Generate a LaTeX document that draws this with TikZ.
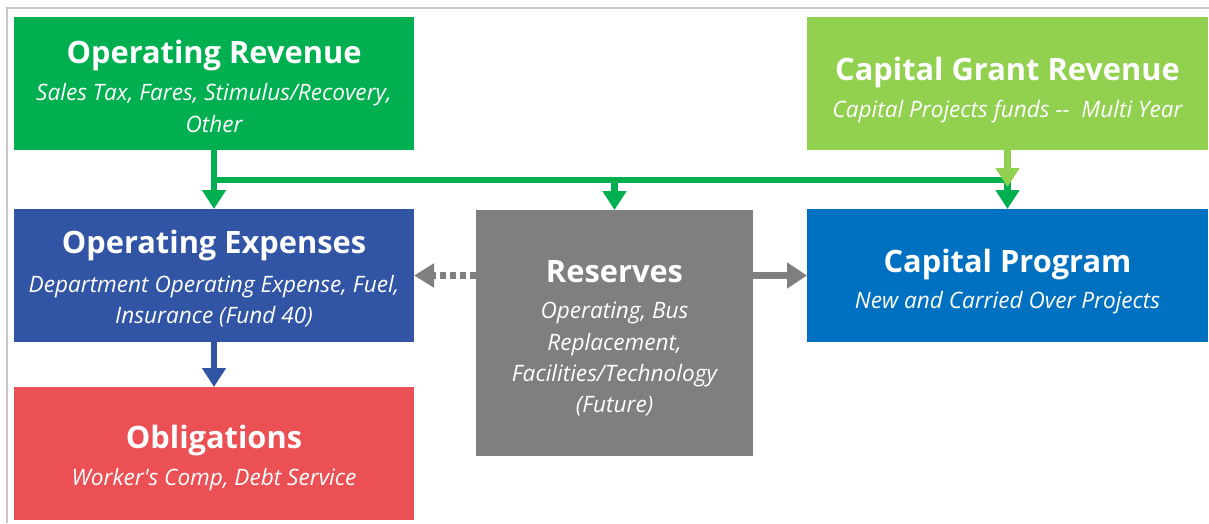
\documentclass[tikz,border=0pt]{standalone}
\usepackage{fontspec}
\setmainfont{Open Sans}
\usetikzlibrary{arrows.meta}
\definecolor{orgreen}{HTML}{00B050}
\definecolor{cggreen}{HTML}{92D050}
\definecolor{opblue}{HTML}{3155A4}
\definecolor{cpblue}{HTML}{0070C0}
\definecolor{oblred}{HTML}{EB5055}
\definecolor{resgray}{HTML}{7F7F7F}
\definecolor{framegray}{HTML}{C8C8C8}
\begin{document}
\begin{tikzpicture}[x=1pt,y=-1pt,
  box/.style={draw=none, inner sep=0pt, outer sep=0pt, anchor=north west},
  ttl/.style={text=white, font=\fontsize{30.8}{36}\selectfont\bfseries, anchor=base, inner sep=0pt},
  sub/.style={text=white, font=\fontsize{22.6}{30}\selectfont\itshape, anchor=base, inner sep=0pt},
  flow/.style={line width=6.5pt, -{Triangle[width=23pt,length=19pt]}},
  link/.style={line width=6.5pt}
]
\useasboundingbox (0,0) rectangle (1209,523);
\fill[white] (0,0) rectangle (1209,523);
\draw[framegray, line width=1.5pt] (7,523) -- (7,8) -- (1209,8);

% boxes
\node[box, fill=orgreen, minimum width=400pt, minimum height=133pt] (orev) at (14,17) {};
\node[box, fill=cggreen, minimum width=401pt, minimum height=133pt] (cgr) at (807,17) {};
\node[box, fill=opblue, minimum width=400pt, minimum height=133pt] (opex) at (14,209) {};
\node[box, fill=cpblue, minimum width=401pt, minimum height=133pt] (cprog) at (807,209) {};
\node[box, fill=oblred, minimum width=400pt, minimum height=133pt] (oblig) at (14,387) {};
\node[box, fill=resgray, minimum width=277pt, minimum height=246pt] (res) at (476,210) {};

% texts
\node[ttl] (orevT) at (214,63) {Operating Revenue};
\node[sub] (orevS1) at (214,100) {Sales Tax, Fares, Stimulus/Recovery,};
\node[sub] (orevS2) at (214,132) {Other};

\node[ttl] (cgrT) at (1007.5,80) {Capital Grant Revenue};
\node[sub] (cgrS1) at (1007.5,117) {Capital Projects funds -{}-\ \ Multi Year};

\node[ttl] (opexT) at (214,253) {Operating Expenses};
\node[sub] (opexS1) at (214,292) {Department Operating Expense, Fuel,};
\node[sub] (opexS2) at (214,323) {Insurance (Fund 40)};

\node[ttl] (cprogT) at (1007.5,272) {Capital Program};
\node[sub] (cprogS1) at (1007.5,308) {New and Carried Over Projects};

\node[ttl] (resT) at (614.5,282) {Reserves};
\node[sub] (resS1) at (614.5,318) {Operating, Bus};
\node[sub] (resS2) at (614.5,350) {Replacement,};
\node[sub] (resS3) at (614.5,381) {Facilities/Technology};
\node[sub] (resS4) at (614.5,412) {(Future)};

\node[ttl] (obligT) at (214,448) {Obligations};
\node[sub] (obligS1) at (214,485) {Worker\textquotesingle s Comp, Debt Service};

% connectors
\coordinate (jl) at (214,180);
\coordinate (jr) at (1007.5,180);
\coordinate (jm) at (614.5,180);
\coordinate (cgend) at (1007.5,187);
\draw[link, orgreen] (jl) -- (jr);
\draw[flow, orgreen] (orev.south) -- (opex.north);
\draw[flow, orgreen] (jm) -- (res.north);
\draw[flow, orgreen] (jr) -- (cprog.north);
\draw[flow, cggreen] (cgr.south) -- (cgend);
\draw[flow, opblue] (opex.south) -- (oblig.north);
\draw[resgray, line width=7pt, dash pattern=on 6pt off 4pt, -{Triangle[width=23pt,length=20pt]}] (res.west |- opex.east) -- (opex.east);
\draw[resgray, line width=7pt, -{Triangle[width=25pt,length=20pt]}] (res.east |- cprog.west) -- (cprog.west);
\end{tikzpicture}
\end{document}
